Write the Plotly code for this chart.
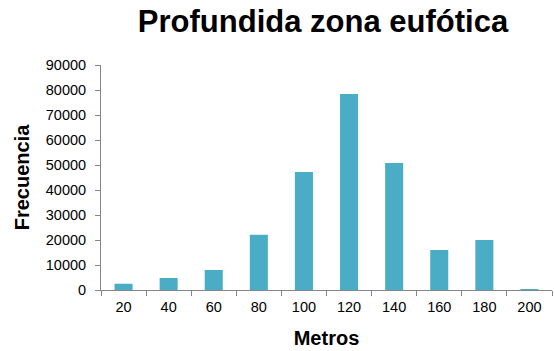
import plotly.graph_objects as go

# Euphotic zone depth histogram
metros = ["20", "40", "60", "80", "100", "120", "140", "160", "180", "200"]
frecuencia = [2500, 4800, 8000, 22100, 47200, 78400, 50800, 16000, 20000, 400]

axis_color = "#868686"
font_family = "Liberation Sans, Arial, sans-serif"

fig = go.Figure(
    go.Bar(
        x=metros,
        y=frecuencia,
        marker=dict(color="#4BACC6", line=dict(width=0)),
        width=0.4,
    )
)

fig.update_layout(
    width=554,
    height=351,
    margin=dict(l=101, r=2, t=65, b=61),
    paper_bgcolor="white",
    plot_bgcolor="white",
    showlegend=False,
    font=dict(family=font_family, color="black", size=14),
    title=dict(
        text="<b>Profundida zona eufótica</b>",
        font=dict(size=31, family=font_family, color="black"),
        x=0.583,
        xanchor="center",
        y=0.94,
        yanchor="middle",
    ),
)

fig.update_xaxes(
    type="category",
    showline=True,
    linecolor=axis_color,
    linewidth=1,
    ticks="outside",
    tickson="boundaries",
    ticklen=5,
    tickcolor=axis_color,
    showgrid=False,
    ticklabelstandoff=4,
    tickfont=dict(size=14.5, color="black"),
    title=dict(text="<b>Metros</b>", font=dict(size=20), standoff=16),
)

fig.update_yaxes(
    range=[0, 90000],
    dtick=10000,
    tickformat="d",
    showline=True,
    linecolor=axis_color,
    linewidth=1,
    ticks="outside",
    ticklen=5,
    tickcolor=axis_color,
    showgrid=False,
    zeroline=False,
    ticklabelstandoff=6,
    tickfont=dict(size=14.5, color="black"),
    title=dict(text="<b>Frecuencia</b>", font=dict(size=20), standoff=10),
)

fig.write_html("out.html")
